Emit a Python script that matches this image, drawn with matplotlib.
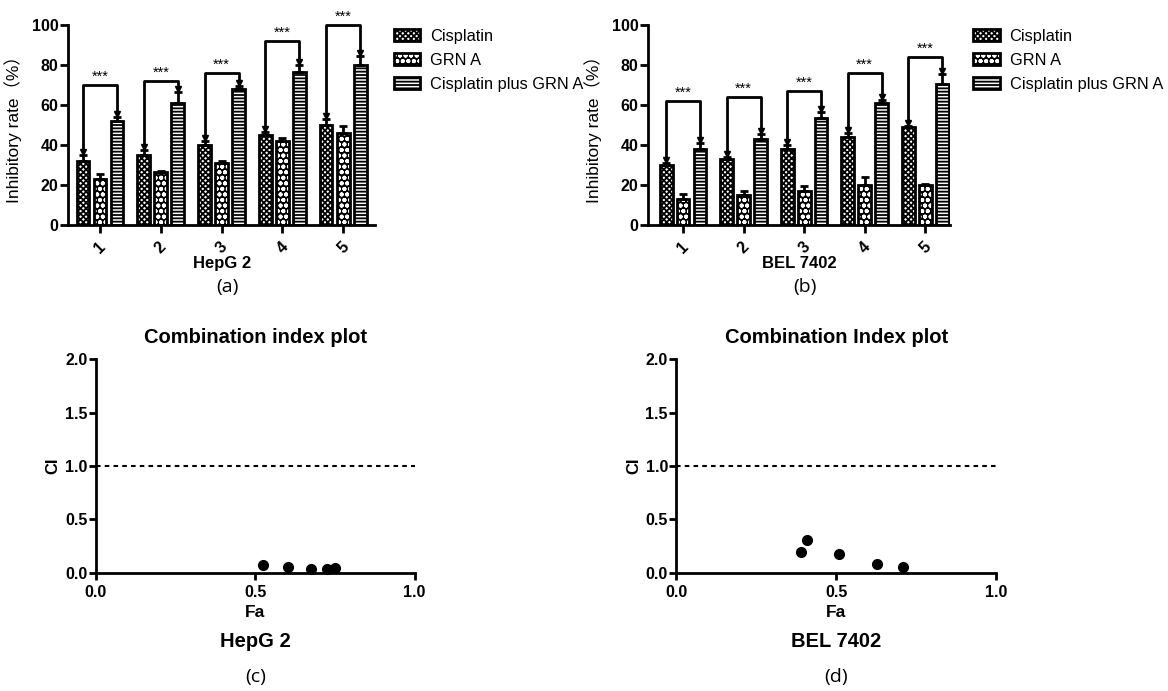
import matplotlib
matplotlib.use("Agg")
import matplotlib.pyplot as plt
import matplotlib.patches as mpatches
import numpy as np

plt.rcParams['font.family'] = ['Liberation Sans', 'Noto Sans CJK SC', 'DejaVu Sans']
plt.rcParams['hatch.linewidth'] = 1.3

# data
doses = ['1', '2', '3', '4', '5']
series = ['Cisplatin', 'GRN A', 'Cisplatin plus GRN A']

hep_cis = [32, 35, 40, 45, 50]
hep_cis_err = [3, 2.5, 2, 1.5, 3]
hep_grn = [23, 26.5, 31, 42, 46]
hep_grn_err = [2.5, 0.5, 1, 1.5, 3.5]
hep_comb = [52, 61, 68, 76.5, 80]
hep_comb_err = [2, 5.5, 1.5, 3.5, 4.5]
hep_sig = [70, 72, 76, 92, 100]

bel_cis = [30, 33, 38, 44, 49]
bel_cis_err = [1, 1, 2, 2, 0.5]
bel_grn = [13, 15, 17, 20, 20]
bel_grn_err = [2.5, 2, 2.5, 4, 0.3]
bel_comb = [38, 43, 53.5, 61, 70.5]
bel_comb_err = [3, 2.5, 3, 1.5, 5]
bel_sig = [62, 64, 67, 76, 84]

hep_fa = [0.523, 0.603, 0.675, 0.724, 0.75]
hep_ci = [0.072, 0.052, 0.04, 0.04, 0.05]
bel_fa = [0.39, 0.407, 0.508, 0.628, 0.71]
bel_ci = [0.196, 0.31, 0.18, 0.08, 0.053]

lw = 2.0
# (face, hatch colour, hatch) for each series
styles = [('white', 'black', 'xxxxxx'), ('black', 'white', 'ooo'), ('white', 'black', '-----')]


def bar_panel(ax, cis, cis_err, grn, grn_err, comb, comb_err, sig, cell, tag, xlim):
    x = np.arange(1, 6)
    w = 0.21
    off = 0.28
    vals = [cis, grn, comb]
    errs = [cis_err, grn_err, comb_err]
    for k in range(3):
        xs = x + (k - 1) * off
        face, hc, h = styles[k]
        ax.bar(xs, vals[k], w, color=face, edgecolor=hc, hatch=h, linewidth=0, zorder=2)
        ax.bar(xs, vals[k], w, fill=False, edgecolor='black', linewidth=lw, zorder=2)
        ax.errorbar(xs, vals[k], yerr=[np.zeros(5), errs[k]], fmt='none', ecolor='black',
                    elinewidth=lw, capsize=3, capthick=lw, zorder=3)
    # significance brackets
    for i in range(5):
        x0 = x[i] - off
        x1 = x[i] + off
        y0 = cis[i] + cis_err[i] + 1
        y1 = comb[i] + comb_err[i] + 1
        ax.plot([x0, x0, x1, x1], [y0, sig[i], sig[i], y1], color='black', lw=lw,
                clip_on=False, zorder=4)
        ax.plot([x0, x1], [y0 + 0.5, y1 + 0.5], 'v', color='black', ms=5, clip_on=False, zorder=4)
        ax.text(x[i], sig[i] + 0.5, '***', ha='center', va='bottom', fontsize=10.5)
    ax.set_xlim(*xlim)
    ax.set_ylim(0, 100)
    ax.set_yticks([0, 20, 40, 60, 80, 100])
    ax.set_xticks(x)
    ax.set_xticklabels(doses, rotation=45, ha='center', fontweight='bold', fontsize=11.5)
    for t in ax.get_yticklabels():
        t.set_fontweight('bold')
        t.set_fontsize(11.5)
    ax.set_ylabel('Inhibitory rate（%）', fontsize=12.5, labelpad=7)
    ax.set_xlabel(cell, fontweight='bold', fontsize=12, labelpad=0)
    ax.text(0.52, -0.31, tag, transform=ax.transAxes, ha='center', va='center',
            fontsize=14, family=['Open Sans', 'DejaVu Sans'])
    for s in ['top', 'right']:
        ax.spines[s].set_visible(False)
    for s in ['left', 'bottom']:
        ax.spines[s].set_linewidth(lw)
    ax.tick_params(width=lw, length=6, pad=1)
    ax.tick_params(axis='x', pad=4)


def ci_panel(ax, fa, ci, title, cell, tag):
    ax.plot(fa, ci, 'o', color='black', ms=7, clip_on=False, zorder=3)
    ax.axhline(1.0, color='black', lw=1.5, ls=(0, (2.2, 2)))
    ax.set_xlim(0, 1)
    ax.set_ylim(0, 2)
    ax.set_xticks([0, 0.5, 1.0])
    ax.set_yticks([0, 0.5, 1.0, 1.5, 2.0])
    ax.set_xticklabels(['0.0', '0.5', '1.0'], fontweight='bold', fontsize=11.5)
    ax.set_yticklabels(['0.0', '0.5', '1.0', '1.5', '2.0'], fontweight='bold', fontsize=11.5)
    ax.set_title(title, fontweight='bold', fontsize=14.5, pad=12)
    ax.set_ylabel('CI', fontweight='bold', fontsize=12, labelpad=3)
    ax.set_xlabel('Fa', fontweight='bold', fontsize=12.5, labelpad=3)
    ax.text(0.5, -0.32, cell, transform=ax.transAxes, ha='center', va='center',
            fontweight='bold', fontsize=14.5)
    ax.text(0.5, -0.49, tag, transform=ax.transAxes, ha='center', va='center',
            fontsize=14, family=['Open Sans', 'DejaVu Sans'])
    for s in ['top', 'right']:
        ax.spines[s].set_visible(False)
    for s in ['left', 'bottom']:
        ax.spines[s].set_linewidth(lw)
    ax.tick_params(width=lw, length=5, pad=1)
    ax.tick_params(axis='x', pad=4)


fig = plt.figure(figsize=(11.68, 6.91), dpi=100)
ax_a = fig.add_axes([0.0582, 0.6744, 0.263, 0.2894])
ax_b = fig.add_axes([0.5548, 0.6744, 0.2586, 0.2894])
ax_c = fig.add_axes([0.082, 0.171, 0.273, 0.309])
ax_d = fig.add_axes([0.579, 0.171, 0.274, 0.309])

bar_panel(ax_a, hep_cis, hep_cis_err, hep_grn, hep_grn_err, hep_comb, hep_comb_err, hep_sig,
          'HepG 2', '(a)', (0.473, 5.527))
bar_panel(ax_b, bel_cis, bel_cis_err, bel_grn, bel_grn_err, bel_comb, bel_comb_err, bel_sig,
          'BEL 7402', '(b)', (0.42, 5.41))
ci_panel(ax_c, hep_fa, hep_ci, 'Combination index plot', 'HepG 2', '(c)')
ci_panel(ax_d, bel_fa, bel_ci, 'Combination Index plot', 'BEL 7402', '(d)')

handles = []
for face, hc, h in styles:
    fill = mpatches.Patch(facecolor=face, edgecolor=hc, hatch=h, linewidth=0)
    edge = mpatches.Patch(fill=False, edgecolor='black', linewidth=lw)
    handles.append((fill, edge))
for ax, bx in [(ax_a, 1.03), (ax_b, 1.045)]:
    ax.legend(handles, series, loc='upper left', bbox_to_anchor=(bx, 1.03), frameon=False,
              fontsize=11.8, handlelength=1.6, handleheight=0.8, labelspacing=0.55,
              handletextpad=0.6, borderaxespad=0.2)

fig.savefig('out.png', dpi=100)
